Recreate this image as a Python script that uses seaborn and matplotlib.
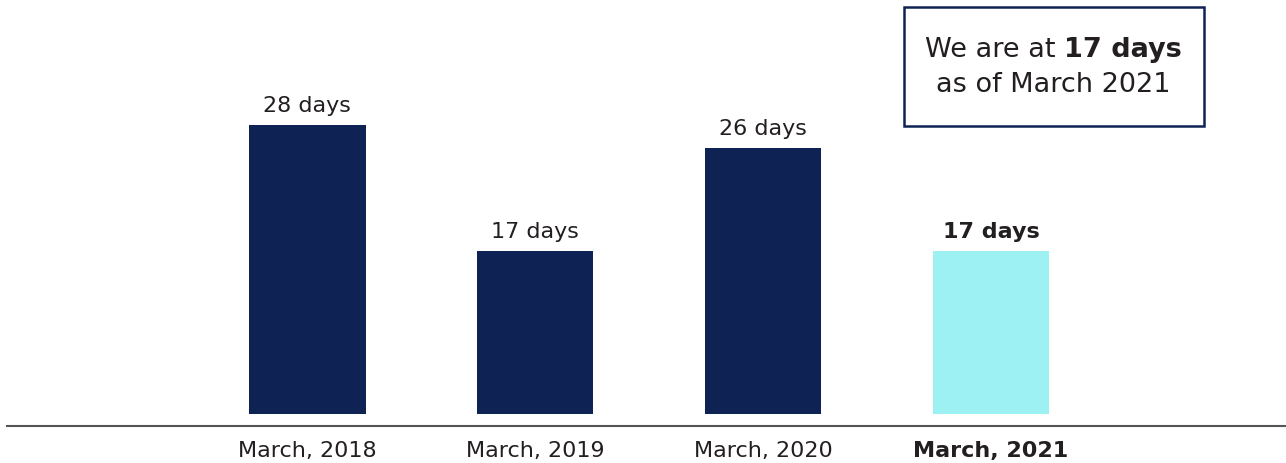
import matplotlib
matplotlib.use("Agg")
import matplotlib.pyplot as plt
from matplotlib.patches import Rectangle
import seaborn as sns
import pandas as pd

# Days per period
periods = ["March, 2018", "March, 2019", "March, 2020", "March, 2021"]
days = [28, 17, 26, 17]
value_labels = ["28 days", "17 days", "26 days", "17 days"]

NAVY = "#0E2354"
CYAN = "#9DF1F2"
TEXT = "#231F20"
bar_colors = [NAVY, NAVY, NAVY, CYAN]

sns.set_theme(style="white")
plt.rcParams["font.family"] = ["DejaVu Sans"]

df = pd.DataFrame({"period": periods, "days": days})

W, H = 1286, 463
fig = plt.figure(figsize=(W / 100, H / 100), dpi=100)
ax = fig.add_axes([7 / W, (H - 413.7) / H, 1279 / W, 413.7 / H])

sns.barplot(data=df, x="period", y="days", hue="period", palette=bar_colors,
            width=0.513, saturation=1, legend=False, linewidth=0, ax=ax)

ax.set_xlim(-1.316, 4.294)
ax.set_ylim(2.8, 38.9)

# Value labels above the bars
for i, (v, lab) in enumerate(zip(days, value_labels)):
    bold = i == len(days) - 1
    ax.annotate(lab, (i, v), xytext=(0, 6.5), textcoords="offset points",
                ha="center", va="bottom", fontsize=16, color=TEXT,
                fontweight="bold" if bold else "normal")

for s in ["top", "left", "right"]:
    ax.spines[s].set_visible(False)
ax.spines["bottom"].set_position(("outward", 9))
ax.spines["bottom"].set_color("#555555")
ax.spines["bottom"].set_linewidth(1.5)

ax.set_xlabel("")
ax.set_ylabel("")
ax.set_yticks([])
ax.tick_params(axis="x", length=0, pad=11, labelsize=16, labelcolor=TEXT)
for t in ax.get_xticklabels():
    if t.get_text() == periods[-1]:
        t.set_fontweight("bold")

# Callout box
box = Rectangle((904 / W, (H - 126) / H), 300 / W, 119 / H,
                transform=fig.transFigure, facecolor="white", edgecolor=NAVY,
                linewidth=1.8, zorder=5)
fig.add_artist(box)

cx = 1053
fs = 19.5
y1 = (H - 50) / H
y2 = (H - 85) / H
part_a = fig.text(0, y1, "We are at ", ha="left", va="center",
                  fontsize=fs, color=TEXT, zorder=6)
part_b = fig.text(0, y1, "17 days", ha="left", va="center",
                  fontsize=fs, fontweight="bold", color=TEXT, zorder=6)
fig.canvas.draw()
r = fig.canvas.get_renderer()
wa = part_a.get_window_extent(r).width
wb = part_b.get_window_extent(r).width
x0 = cx - (wa + wb) / 2
part_a.set_x(x0 / W)
part_b.set_x((x0 + wa) / W)
fig.text(cx / W, y2, "as of March 2021", ha="center", va="center",
         fontsize=fs, color=TEXT, zorder=6)

fig.savefig("out.png", dpi=100, facecolor="white")
